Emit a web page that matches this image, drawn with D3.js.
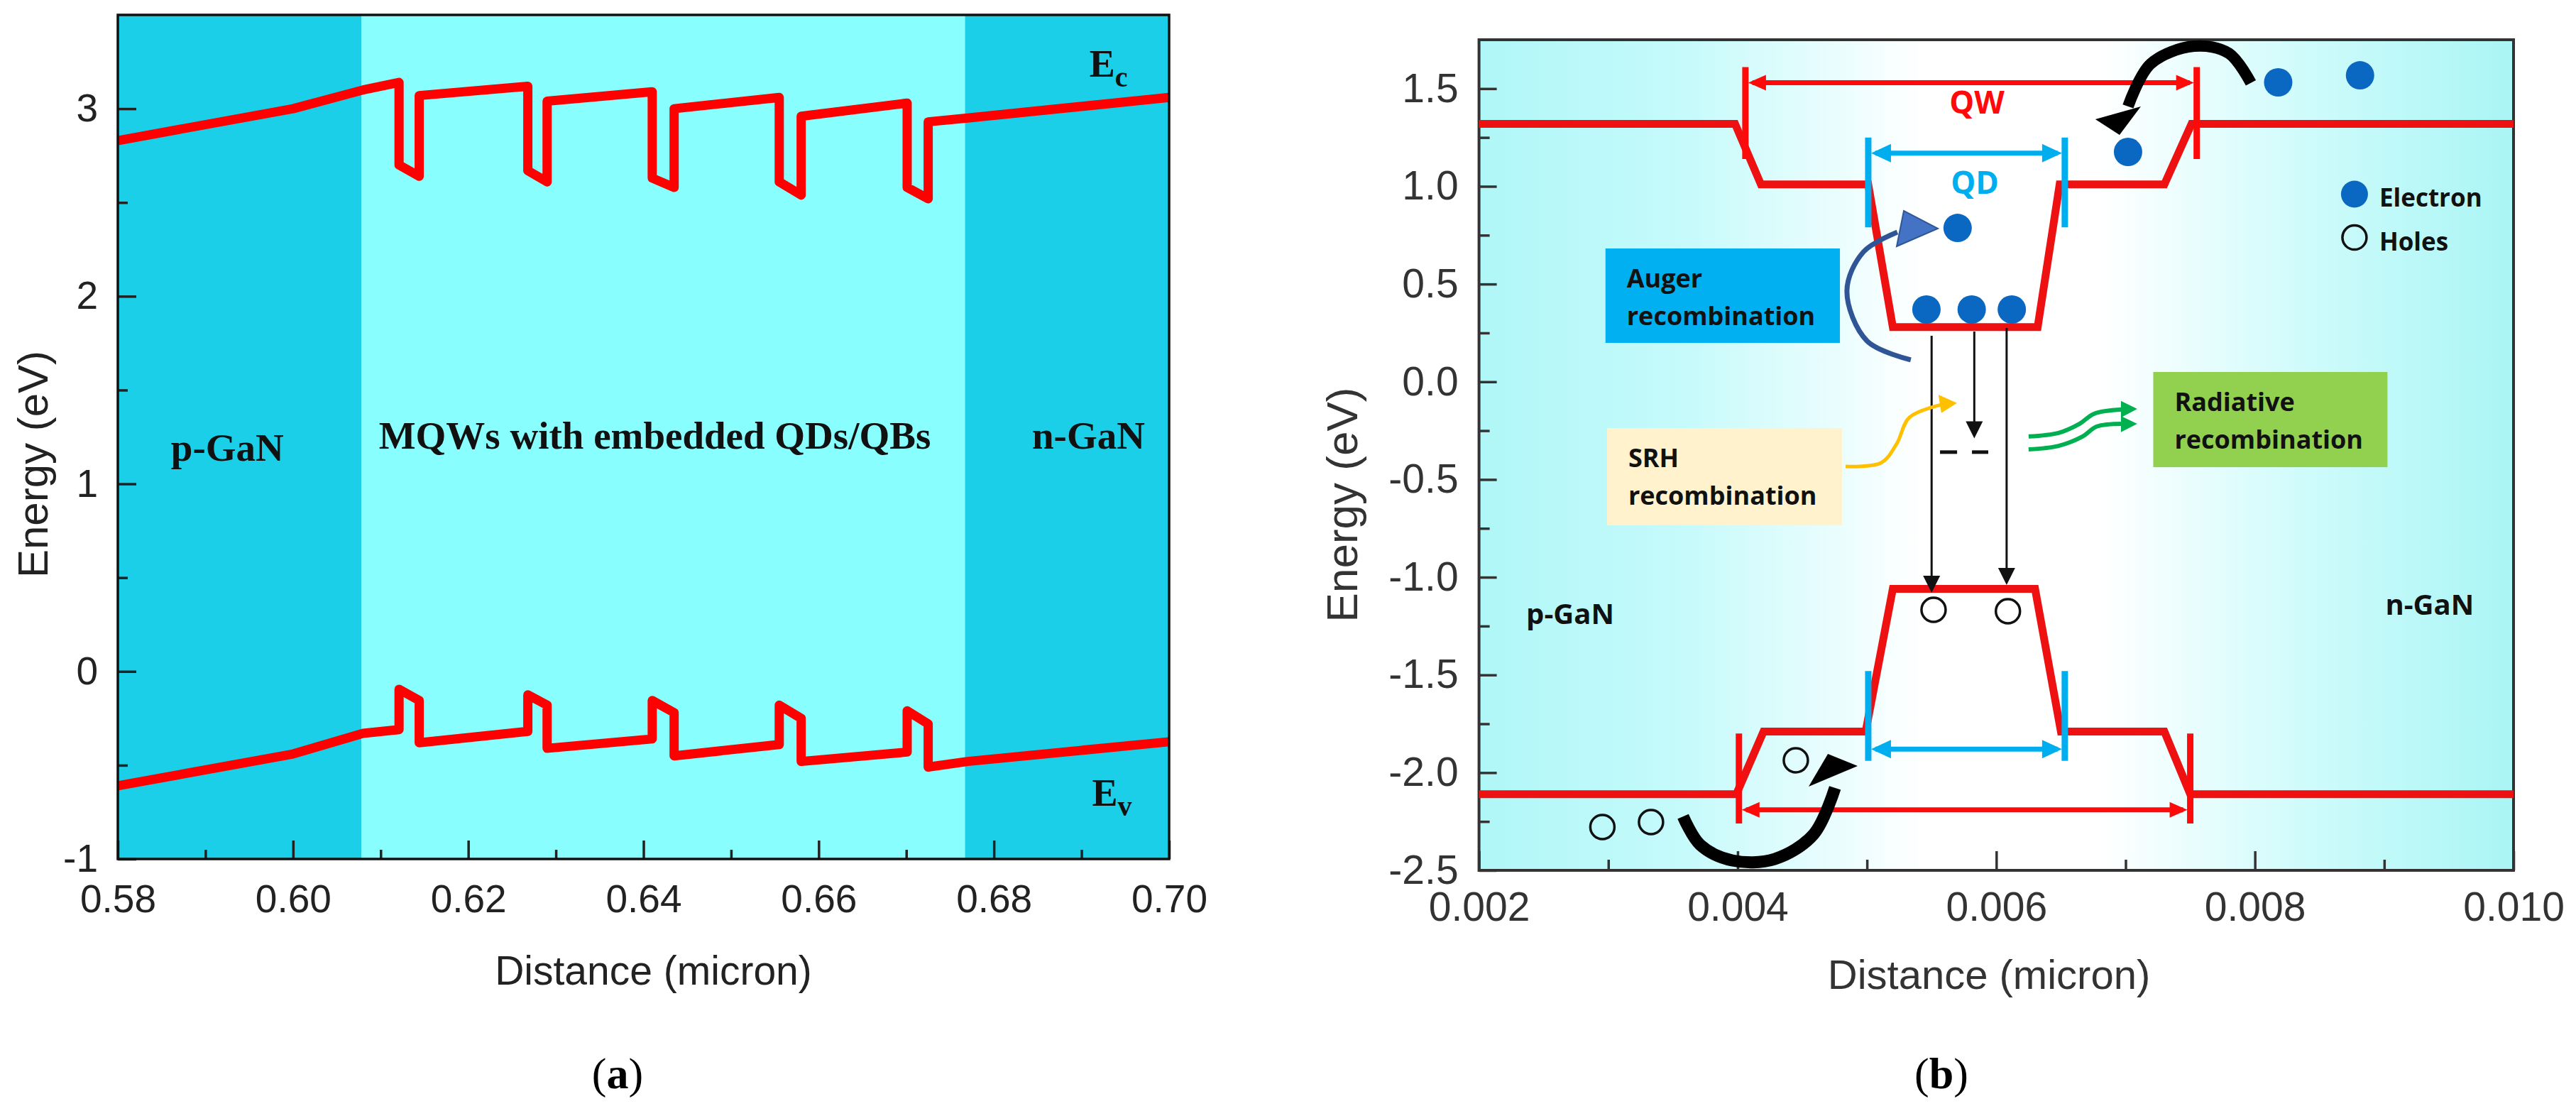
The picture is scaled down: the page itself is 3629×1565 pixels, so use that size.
<!DOCTYPE html>
<meta charset="utf-8">
<style>
  body { margin: 0; background: #fff; }
  .tick text { font-family: "Liberation Sans", Arial, sans-serif; }
  .serif { font-family: "Liberation Serif", "Times New Roman", serif; font-weight: bold; fill: #111; }
  .note { font-family: "Open Sans", Lato, sans-serif; font-weight: bold; fill: #111; }
  .title { font-family: "Liberation Sans", Arial, sans-serif; }
</style>
<body>
<script src="https://cdn.jsdelivr.net/npm/d3@7"></script>
<script>
var width = 3629, height = 1565;

// ---------- panel (a) data ----------
var regionEdgesA = [0.58, 0.6078, 0.6767, 0.70];
var regionKindsA = ["dark", "light", "dark"];

// conduction band Ec (micron, eV)
var ecA = [[0.58,2.83],[0.60,3.00],[0.608,3.10],[0.6121,3.14],[0.6121,2.70],[0.6144,2.64],[0.6144,3.07],
  [0.6268,3.12],[0.6268,2.67],[0.6290,2.61],[0.6290,3.04],[0.6410,3.09],[0.6410,2.63],[0.6435,2.58],
  [0.6435,3.00],[0.6555,3.06],[0.6555,2.61],[0.6580,2.54],[0.6580,2.96],[0.6701,3.03],[0.6701,2.58],
  [0.6725,2.52],[0.6725,2.93],[0.677,2.95],[0.70,3.06]];
// valence band Ev
var evA = [[0.58,-0.61],[0.60,-0.44],[0.608,-0.33],[0.6121,-0.31],[0.6121,-0.095],[0.6144,-0.155],[0.6144,-0.38],
  [0.6268,-0.32],[0.6268,-0.125],[0.6290,-0.18],[0.6290,-0.41],[0.6410,-0.36],[0.6410,-0.155],[0.6435,-0.22],
  [0.6435,-0.45],[0.6555,-0.39],[0.6555,-0.18],[0.6580,-0.25],[0.6580,-0.48],[0.6701,-0.43],[0.6701,-0.21],
  [0.6725,-0.28],[0.6725,-0.51],[0.677,-0.48],[0.70,-0.375]];

var xTicksA = [0.58, 0.60, 0.62, 0.64, 0.66, 0.68, 0.70];
var xMinorA = [0.59, 0.61, 0.63, 0.65, 0.67, 0.69];
var yTicksA = [-1, 0, 1, 2, 3];
var yMinorA = [-0.5, 0.5, 1.5, 2.5];

var labelsA = [
  {text: "p-GaN", x: 0.5925, y: 1.125},
  {text: "MQWs with embedded QDs/QBs", x: 0.6413, y: 1.186},
  {text: "n-GaN", x: 0.6908, y: 1.186}
];

// ---------- panel (b) data ----------
var cbB = [[0.002,1.32],[0.00398,1.32],[0.00418,1.01],[0.00501,1.01],[0.0052,0.28],[0.00632,0.28],
  [0.00649,1.01],[0.0073,1.01],[0.00751,1.32],[0.010,1.32]];
var vbB = [[0.002,-2.11],[0.00399,-2.11],[0.0042,-1.79],[0.00499,-1.79],[0.0052,-1.06],[0.0063,-1.06],
  [0.0065,-1.79],[0.0073,-1.79],[0.0075,-2.11],[0.010,-2.11]];

var xTicksB = [0.002, 0.004, 0.006, 0.008, 0.010];
var xMinorB = [0.003, 0.005, 0.007, 0.009];
var yTicksB = [-2.5, -2.0, -1.5, -1.0, -0.5, 0.0, 0.5, 1.0, 1.5];
var yMinorB = [-2.25, -1.75, -1.25, -0.75, -0.25, 0.25, 0.75, 1.25];

var dimsB = [
  {name: "QW", x0: 0.00406, x1: 0.00755, y: 1.53, b0: 1.14, b1: 1.61},
  {name: "QD", x0: 0.00501, x1: 0.00653, y: 1.17, b0: 0.79, b1: 1.25},
  {name: "QD", x0: 0.00501, x1: 0.00653, y: -1.88, b0: -1.94, b1: -1.48},
  {name: "QW", x0: 0.00401, x1: 0.00750, y: -2.19, b0: -2.26, b1: -1.80}
];
var dimLabelsB = [
  {name: "QW", x: 0.00585, y: 1.372},
  {name: "QD", x: 0.005834, y: 0.962}
];

var electronsB = [[0.00818,1.532],[0.008813,1.568],[0.007019,1.176],[0.005701,0.787],
  [0.00546,0.37],[0.00581,0.37],[0.00612,0.37]];
var holesB = [[0.002954,-2.278],[0.00333,-2.253],[0.00445,-1.937],[0.005515,-1.167],[0.00609,-1.174]];

var transB = [{x: 0.0055, y0: 0.235, y1: -1.08}, {x: 0.00583, y0: 0.257, y1: -0.29}, {x: 0.00608, y0: 0.275, y1: -1.04}];
var defectB = [[0.005565, 0.005697], [0.005812, 0.005938]];
var defectLevelB = -0.36;

var boxesB = [
  {kind: "auger", lines: ["Auger", "recombination"], x0: 0.002978, x1: 0.004791, y0: 0.682, y1: 0.199},
  {kind: "srh", lines: ["SRH", "recombination"], x0: 0.00299, x1: 0.004807, y0: -0.237, y1: -0.734},
  {kind: "rad", lines: ["Radiative", "recombination"], x0: 0.007214, x1: 0.009025, y0: 0.050, y1: -0.437}
];

var augerPath = [[0.005339,0.112],[0.004999,0.210],[0.004845,0.464],[0.004972,0.664],[0.005235,0.766]];
var augerHead = [[0.005285,0.875],[0.00523,0.693],[0.005548,0.784]];
var srhPath = [[0.004835,-0.433],[0.005109,-0.415],[0.00523,-0.317],[0.005329,-0.182],[0.005603,-0.113]];
var srhHead = [[0.005696,-0.109],[0.005553,-0.066],[0.005575,-0.160]];
var radPaths = [
  [[0.00625,-0.280],[0.006481,-0.262],[0.006645,-0.215],[0.006755,-0.164],[0.006975,-0.142]],
  [[0.00625,-0.346],[0.006481,-0.328],[0.006667,-0.280],[0.006777,-0.229],[0.006975,-0.215]]
];
var radHeads = [
  [[0.00709,-0.139],[0.006964,-0.098],[0.006964,-0.183]],
  [[0.00709,-0.215],[0.006964,-0.175],[0.006964,-0.258]]
];
var topCurve = [[0.007969,1.529],[0.007798,1.681],[0.007529,1.717],[0.007194,1.627],[0.007019,1.409]];
var topHead = [[0.006953,1.263],[0.006766,1.343],[0.007118,1.409]];
var botCurve = [[0.003578,-2.224],[0.00371,-2.369],[0.003957,-2.449],[0.004286,-2.442],[0.004588,-2.315],[0.004753,-2.078]];
var botHead = [[0.004549,-2.071],[0.004698,-1.904],[0.004928,-1.966]];

var legendB = [{kind: "e", text: "Electron", x: 0.00877, y: 0.960}, {kind: "h", text: "Holes", x: 0.00877, y: 0.738}];
var regionLabelsB = [{text: "p-GaN", x: 0.002365, y: -1.24}, {text: "n-GaN", x: 0.009009, y: -1.192}];

// ---------- drawing ----------
var svg = d3.select("body").append("svg").attr("width", width).attr("height", height);
svg.append("rect").attr("width", width).attr("height", height).attr("fill", "#fff");

// plain hyphen for negatives, as in the figure
function fmt(spec) {
  var f = d3.format(spec);
  return d => f(d).replace("\u2212", "-");
}

function styleAxis(g, size, color) {
  g.select(".domain").remove();
  g.selectAll(".tick line").attr("stroke", color).attr("stroke-width", 3.5);
  g.selectAll(".tick text").attr("font-size", size).attr("fill", color);
}

// ===== panel (a) =====
var xA = d3.scaleLinear().domain([0.58, 0.70]).range([166, 1647]);
var yA = d3.scaleLinear().domain([-1, 3.5]).range([1210, 21]);
var fillA = d3.scaleOrdinal().domain(["dark", "light"]).range(["#1acfe7", "#88fefe"]);
var gA = svg.append("g");

gA.selectAll("rect.region").data(regionKindsA).join("rect")
  .attr("class", "region")
  .attr("x", (d, i) => xA(regionEdgesA[i]))
  .attr("width", (d, i) => xA(regionEdgesA[i + 1]) - xA(regionEdgesA[i]))
  .attr("y", yA(3.5)).attr("height", yA(-1) - yA(3.5))
  .attr("fill", d => fillA(d));

var lineA = d3.line().x(d => xA(d[0])).y(d => yA(d[1]));
gA.selectAll("path.band").data([ecA, evA]).join("path")
  .attr("class", "band")
  .attr("d", lineA).attr("fill", "none").attr("stroke", "#ff0000")
  .attr("stroke-width", 13).attr("stroke-linejoin", "round");

gA.append("g").attr("transform", "translate(0," + yA(-1) + ")")
  .call(d3.axisBottom(xA).tickValues(xTicksA).tickSize(-26).tickPadding(36).tickFormat(fmt(".2f")))
  .call(g => styleAxis(g, 55, "#222"));
gA.append("g").attr("transform", "translate(0," + yA(-1) + ")")
  .call(d3.axisBottom(xA).tickValues(xMinorA).tickSize(-13).tickFormat(""))
  .call(g => styleAxis(g, 55, "#222"));
gA.append("g").attr("transform", "translate(" + xA(0.58) + ",0)")
  .call(d3.axisLeft(yA).tickValues(yTicksA).tickSize(-26).tickPadding(28).tickFormat(fmt("d")))
  .call(g => styleAxis(g, 55, "#222"));
gA.append("g").attr("transform", "translate(" + xA(0.58) + ",0)")
  .call(d3.axisLeft(yA).tickValues(yMinorA).tickSize(-14).tickFormat(""))
  .call(g => styleAxis(g, 55, "#222"));

gA.append("rect")
  .attr("x", xA(0.58)).attr("y", yA(3.5))
  .attr("width", xA(0.70) - xA(0.58)).attr("height", yA(-1) - yA(3.5))
  .attr("fill", "none").attr("stroke", "#111").attr("stroke-width", 3.5);

gA.selectAll("text.region").data(labelsA).join("text")
  .attr("class", "serif region")
  .attr("x", d => xA(d.x)).attr("y", d => yA(d.y))
  .attr("text-anchor", "middle").attr("font-size", 55)
  .text(d => d.text);

var ecLab = gA.append("text").attr("class", "serif").attr("font-size", 54)
  .attr("x", xA(0.6909)).attr("y", yA(3.17));
ecLab.append("tspan").text("E");
ecLab.append("tspan").attr("font-size", 40).attr("dy", 14).text("c");
var evLab = gA.append("text").attr("class", "serif").attr("font-size", 54)
  .attr("x", xA(0.6912)).attr("y", yA(-0.716));
evLab.append("tspan").text("E");
evLab.append("tspan").attr("font-size", 40).attr("dy", 14).text("v");

gA.append("text").attr("class", "title")
  .attr("x", (xA(0.58) + xA(0.70)) / 2 + 14).attr("y", 1387)
  .attr("text-anchor", "middle").attr("font-size", 57).attr("fill", "#222")
  .text("Distance (micron)");
gA.append("text").attr("class", "title")
  .attr("transform", "translate(67,654) rotate(-90)")
  .attr("text-anchor", "middle").attr("font-size", 60).attr("fill", "#222")
  .text("Energy (eV)");

function caption(x, letter) {
  var t = svg.append("text").attr("x", x).attr("y", 1533)
    .attr("text-anchor", "middle").attr("font-size", 62).attr("fill", "#000")
    .attr("font-family", "'Liberation Serif', 'Times New Roman', serif");
  t.append("tspan").text("(");
  t.append("tspan").attr("font-weight", "bold").text(letter);
  t.append("tspan").text(")");
}
caption(870, "a");

// ===== panel (b) =====
var xB = d3.scaleLinear().domain([0.002, 0.010]).range([2083.6, 3541]);
var yB = d3.scaleLinear().domain([-2.5, 1.75]).range([1226, 56]);
var colorB = d3.scaleOrdinal().domain(["QW", "QD"]).range(["#ff0a0a", "#00aeef"]);
var boxFill = d3.scaleOrdinal().domain(["auger", "srh", "rad"]).range(["#00b0f0", "#fff2cc", "#92d050"]);
var gB = svg.append("g");

var defs = svg.append("defs");
var grad = defs.append("linearGradient").attr("id", "bgB").attr("x1", "0").attr("x2", "1").attr("y1", "0").attr("y2", "0");
[[0, "#b0f7f8"], [0.2, "#c6fafb"], [0.43, "#ffffff"], [0.6, "#ffffff"], [0.8, "#cffbfb"], [1, "#aaf5f5"]]
  .forEach(s => grad.append("stop").attr("offset", s[0]).attr("stop-color", s[1]));

gB.append("rect")
  .attr("x", xB(0.002)).attr("y", yB(1.75))
  .attr("width", xB(0.010) - xB(0.002)).attr("height", yB(-2.5) - yB(1.75))
  .attr("fill", "url(#bgB)");

gB.append("g").attr("transform", "translate(0," + yB(-2.5) + ")")
  .call(d3.axisBottom(xB).tickValues(xTicksB).tickSize(-27).tickPadding(31).tickFormat(fmt(".3f")))
  .call(g => styleAxis(g, 57, "#333"));
gB.append("g").attr("transform", "translate(0," + yB(-2.5) + ")")
  .call(d3.axisBottom(xB).tickValues(xMinorB).tickSize(-15).tickFormat(""))
  .call(g => styleAxis(g, 57, "#333"));
gB.append("g").attr("transform", "translate(" + xB(0.002) + ",0)")
  .call(d3.axisLeft(yB).tickValues(yTicksB).tickSize(-25).tickPadding(29).tickFormat(fmt(".1f")))
  .call(g => styleAxis(g, 57, "#333"));
gB.append("g").attr("transform", "translate(" + xB(0.002) + ",0)")
  .call(d3.axisLeft(yB).tickValues(yMinorB).tickSize(-15).tickFormat(""))
  .call(g => styleAxis(g, 57, "#333"));

gB.append("rect")
  .attr("x", xB(0.002)).attr("y", yB(1.75))
  .attr("width", xB(0.010) - xB(0.002)).attr("height", yB(-2.5) - yB(1.75))
  .attr("fill", "none").attr("stroke", "#333").attr("stroke-width", 4);

// recombination boxes
var boxes = gB.selectAll("g.box").data(boxesB).join("g").attr("class", "box");
boxes.append("rect")
  .attr("x", d => xB(d.x0)).attr("y", d => yB(d.y0))
  .attr("width", d => xB(d.x1) - xB(d.x0)).attr("height", d => yB(d.y1) - yB(d.y0))
  .attr("fill", d => boxFill(d.kind));
boxes.each(function(d) {
  d3.select(this).selectAll("text").data(d.lines).join("text")
    .attr("class", "note").attr("font-size", 36)
    .attr("x", xB(d.x0) + 30).attr("y", (t, i) => yB(d.y0) + 55 + i * 53)
    .text(t => t);
});

var lineB = d3.line().x(d => xB(d[0])).y(d => yB(d[1]));
var curveB = d3.line().x(d => xB(d[0])).y(d => yB(d[1])).curve(d3.curveCatmullRom);
var triB = d => lineB(d) + "Z";

// bands
gB.selectAll("path.band").data([cbB, vbB]).join("path")
  .attr("class", "band").attr("d", lineB).attr("fill", "none")
  .attr("stroke", "#ee1111").attr("stroke-width", 11).attr("stroke-linejoin", "miter");

// dimension arrows
var dims = gB.selectAll("g.dim").data(dimsB).join("g").attr("class", "dim");
dims.append("line")
  .attr("x1", d => xB(d.x0) + 10).attr("x2", d => xB(d.x1) - 10)
  .attr("y1", d => yB(d.y)).attr("y2", d => yB(d.y))
  .attr("stroke", d => colorB(d.name)).attr("stroke-width", 7);
dims.selectAll("line.bar").data(d => [[d.x0, d], [d.x1, d]]).join("line")
  .attr("class", "bar")
  .attr("x1", p => xB(p[0])).attr("x2", p => xB(p[0]))
  .attr("y1", p => yB(p[1].b0)).attr("y2", p => yB(p[1].b1))
  .attr("stroke", p => colorB(p[1].name)).attr("stroke-width", 9);
dims.selectAll("path.head").data(d => [[d.x0, 1, d], [d.x1, -1, d]]).join("path")
  .attr("class", "head")
  .attr("d", p => {
    var x = xB(p[0]) + p[1] * 4, y = yB(p[2].y), L = p[2].name == "QD" ? 28 : 25, h = p[2].name == "QD" ? 13 : 11;
    return "M" + x + "," + y + "L" + (x + p[1] * L) + "," + (y - h) + "L" + (x + p[1] * L) + "," + (y + h) + "Z";
  })
  .attr("fill", p => colorB(p[2].name));
gB.selectAll("text.dimlab").data(dimLabelsB).join("text")
  .attr("class", "note dimlab").attr("text-anchor", "middle").attr("font-size", 44)
  .attr("x", d => xB(d.x)).attr("y", d => yB(d.y))
  .style("fill", d => colorB(d.name))
  .text(d => d.name);

// transitions and defect level
gB.selectAll("line.trans").data(transB).join("line")
  .attr("class", "trans")
  .attr("x1", d => xB(d.x)).attr("x2", d => xB(d.x))
  .attr("y1", d => yB(d.y0)).attr("y2", d => yB(d.y1) - 18)
  .attr("stroke", "#111").attr("stroke-width", 3);
gB.selectAll("path.transhead").data(transB).join("path")
  .attr("class", "transhead")
  .attr("d", d => {
    var x = xB(d.x), y = yB(d.y1);
    return "M" + x + "," + y + "L" + (x - 12) + "," + (y - 24) + "L" + (x + 12) + "," + (y - 24) + "Z";
  })
  .attr("fill", "#111");
gB.selectAll("line.defect").data(defectB).join("line")
  .attr("class", "defect")
  .attr("x1", d => xB(d[0])).attr("x2", d => xB(d[1]))
  .attr("y1", yB(defectLevelB)).attr("y2", yB(defectLevelB))
  .attr("stroke", "#111").attr("stroke-width", 5);

// curved process arrows
gB.append("path").attr("d", curveB(augerPath)).attr("fill", "none")
  .attr("stroke", "#2f5597").attr("stroke-width", 7);
gB.append("path").attr("d", triB(augerHead)).attr("fill", "#4472c4")
  .attr("stroke", "#2f5597").attr("stroke-width", 2);
gB.append("path").attr("d", curveB(srhPath)).attr("fill", "none")
  .attr("stroke", "#ffc000").attr("stroke-width", 5);
gB.append("path").attr("d", triB(srhHead)).attr("fill", "#ffc000");
gB.selectAll("path.rad").data(radPaths).join("path")
  .attr("class", "rad").attr("d", curveB).attr("fill", "none")
  .attr("stroke", "#00b050").attr("stroke-width", 6);
gB.selectAll("path.radhead").data(radHeads).join("path")
  .attr("class", "radhead").attr("d", triB).attr("fill", "#00b050");
gB.append("path").attr("d", curveB(topCurve)).attr("fill", "none")
  .attr("stroke", "#000").attr("stroke-width", 16);
gB.append("path").attr("d", triB(topHead)).attr("fill", "#000");
gB.append("path").attr("d", curveB(botCurve)).attr("fill", "none")
  .attr("stroke", "#000").attr("stroke-width", 17);
gB.append("path").attr("d", triB(botHead)).attr("fill", "#000");

// carriers
gB.selectAll("circle.e").data(electronsB).join("circle")
  .attr("class", "e").attr("cx", d => xB(d[0])).attr("cy", d => yB(d[1])).attr("r", 20)
  .attr("fill", "#0a68c2");
gB.selectAll("circle.h").data(holesB).join("circle")
  .attr("class", "h").attr("cx", d => xB(d[0])).attr("cy", d => yB(d[1])).attr("r", 17)
  .attr("fill", "none").attr("stroke", "#111").attr("stroke-width", 3.5);

// legend
var leg = gB.selectAll("g.leg").data(legendB).join("g").attr("class", "leg");
leg.append("circle")
  .attr("cx", d => xB(d.x)).attr("cy", d => yB(d.y)).attr("r", d => d.kind == "e" ? 19 : 17)
  .attr("fill", d => d.kind == "e" ? "#0a68c2" : "none")
  .attr("stroke", d => d.kind == "e" ? "none" : "#111").attr("stroke-width", 3.5);
leg.append("text").attr("class", "note").attr("font-size", 35)
  .attr("x", d => xB(d.x) + 35).attr("y", d => yB(d.y) + 18)
  .text(d => d.text);

gB.selectAll("text.region").data(regionLabelsB).join("text")
  .attr("class", "note region").attr("font-size", 40)
  .attr("x", d => xB(d.x)).attr("y", d => yB(d.y))
  .text(d => d.text);

gB.append("text").attr("class", "title")
  .attr("x", 2802).attr("y", 1393)
  .attr("text-anchor", "middle").attr("font-size", 58).attr("fill", "#333")
  .text("Distance (micron)");
gB.append("text").attr("class", "title")
  .attr("transform", "translate(1912,711) rotate(-90)")
  .attr("text-anchor", "middle").attr("font-size", 62).attr("fill", "#333")
  .text("Energy (eV)");

caption(2735, "b");
</script>
